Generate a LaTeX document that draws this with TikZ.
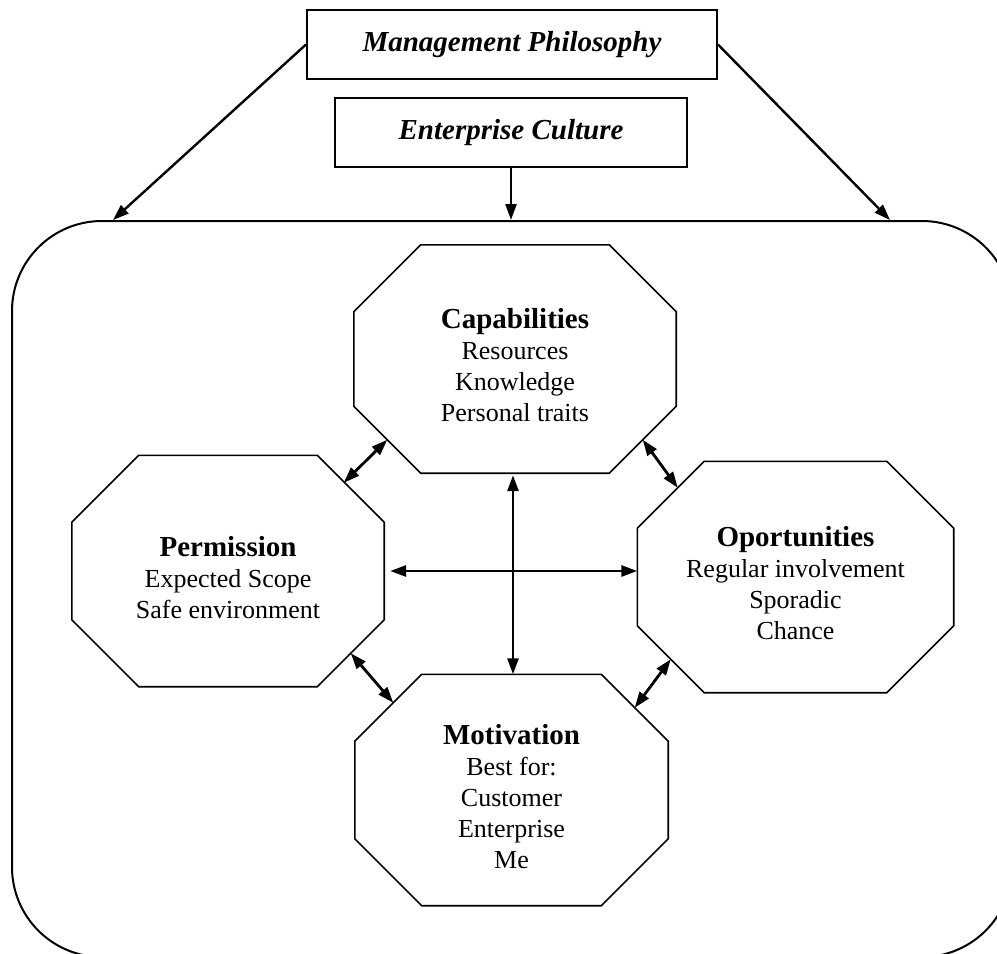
\documentclass[tikz,border=0pt]{standalone}
\usepackage{fontspec}
\setmainfont{Liberation Serif}
\usetikzlibrary{arrows.meta}
\tikzset{
    titlebox/.style = {draw, line width=2pt, inner sep=0pt, minimum height=69pt,
        font=\fontsize{29}{34}\selectfont\bfseries\itshape},
    outer frame/.style = {draw, line width=2pt, rounded corners=90pt, minimum width=1000pt, minimum height=736pt},
    octa/.style = {inner sep=0pt, minimum width=316pt, minimum height=231pt},
    octline/.style = {line width=1.6pt, line join=miter},
    biarrow/.style = {line width=2.8pt, {Triangle[length=16pt,width=11pt]}-{Triangle[length=16pt,width=11pt]}},
    onearrow/.style = {line width=2.4pt, -{Triangle[length=16pt,width=11pt]}},
}
% text of an octagon: bold heading, then the lines below it
\newcommand{\octtext}[2]{\raisebox{-10pt}[\height][\depth]{\fontsize{26}{31}\selectfont
    \begin{tabular}{@{}c@{}}{\fontsize{29}{31}\selectfont\bfseries #1}\\ #2\end{tabular}}}
% outline of an octagon round node #1, with the middles of its cut corners
\newcommand{\octagon}[1]{%
    \draw[octline] ([xshift=67pt]#1.north west) -- ([xshift=-67pt]#1.north east)
        -- ([yshift=-67pt]#1.north east) -- ([yshift=67pt]#1.south east)
        -- ([xshift=-67pt]#1.south east) -- ([xshift=67pt]#1.south west)
        -- ([yshift=67pt]#1.south west) -- ([yshift=-67pt]#1.north west) -- cycle;
    \coordinate (#1-nw) at ([shift={(33.5pt,-33.5pt)}]#1.north west);
    \coordinate (#1-ne) at ([shift={(-33.5pt,-33.5pt)}]#1.north east);
    \coordinate (#1-sw) at ([shift={(33.5pt,33.5pt)}]#1.south west);
    \coordinate (#1-se) at ([shift={(-33.5pt,33.5pt)}]#1.south east);
}

\begin{document}
\begin{tikzpicture}[x=1pt, y=-1pt]
    \useasboundingbox (0,0) rectangle (997,954);
    \clip (0,0) rectangle (997,954);

    \node[outer frame] (frame) at (512,589) {};
    \node[titlebox, minimum width=410pt] (mgmt) at (512,44.5) {Management Philosophy};
    \node[titlebox, minimum width=352pt] (culture) at (511,132.5) {Enterprise Culture};

    \node[octa, minimum width=322pt, minimum height=228pt] (cap) at (515,359) {\octtext{Capabilities}{Resources\\ Knowledge\\ Personal traits}};
    \node[octa, minimum width=312pt] (perm) at (228,571) {\octtext{Permission}{Expected Scope\\ Safe environment}};
    \node[octa] (opp) at (795.5,577) {\octtext{Oportunities}{Regular involvement\\ Sporadic\\ Chance}};
    \node[octa, minimum width=313pt] (mot) at (511.5,790) {\octtext{Motivation}{Best for:\\ Customer\\ Enterprise\\ Me}};
    \octagon{cap}
    \octagon{perm}
    \octagon{opp}
    \octagon{mot}

    \coordinate (topl) at ([xshift=-399pt]frame.north);
    \coordinate (topr) at ([xshift=378pt]frame.north);

    \draw[onearrow] (mgmt.west) -- (topl);
    \draw[onearrow] (mgmt.east) -- (topr);
    \draw[onearrow] (culture.south) -- (culture.south |- frame.north);

    \draw[biarrow] (cap-sw) -- ([shift={(-7pt,6pt)}]perm-ne);
    \draw[biarrow] (cap-se) -- ([shift={(7pt,7pt)}]opp-nw);
    \draw[biarrow] (perm-se) -- ([shift={(5pt,5pt)}]mot-nw);
    \draw[biarrow] (opp-sw) -- (mot-ne);
    \draw[biarrow, shorten <=2pt] ([xshift=-2pt]cap.south) -- ([xshift=-2pt]cap.south |- mot.north);
    \draw[biarrow, shorten <=6pt] (perm.east) -- (perm.east -| opp.west);
\end{tikzpicture}
\end{document}
